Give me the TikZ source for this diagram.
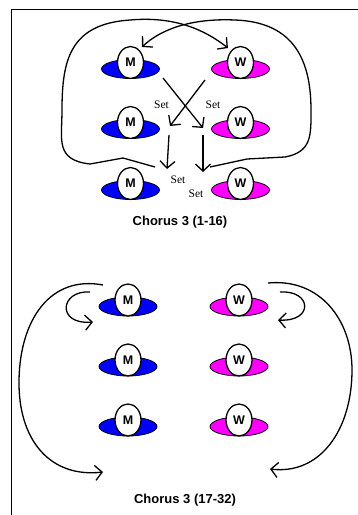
\documentclass[tikz,border=0pt]{standalone}
\usepackage{fontspec}
\setmainfont{Liberation Serif}
\setsansfont{Liberation Sans}
\usetikzlibrary{arrows.meta,shapes.geometric}

\definecolor{manblue}{RGB}{0,0,255}
\definecolor{womanpink}{RGB}{255,0,255}

\tikzset{
  body/.style={ellipse,draw,line width=0.8pt,minimum width=58pt,minimum height=19pt,inner sep=0pt},
  manbody/.style={body,fill=manblue},
  womanbody/.style={body,fill=womanpink},
  head/.style={ellipse,draw,fill=white,line width=1.3pt,minimum width=26pt,minimum height=32pt,inner sep=0pt,
    font=\sffamily\bfseries\fontsize{12.5}{14}\selectfont},
  setlabel/.style={font=\fontsize{11.5}{13}\selectfont},
  caption/.style={font=\sffamily\bfseries\fontsize{13}{15}\selectfont},
  path/.style={line width=1.3pt}
}

\begin{document}
\begin{tikzpicture}[x=1pt,y=-1pt,>={Straight Barb[length=7pt,width=15pt]}]
  \useasboundingbox (0,0) rectangle (358,515);
  \draw[line width=1.2pt] (11.5,515) -- (11.5,9.5) -- (358,9.5);

  % dancers, first chorus
  \foreach \i/\y in {1/69,2/129,3/190}{
    \node[manbody] (mb\i) at (130.5,\y) {};
    \node[head] (m\i) at (130.5,\y-6.5) {M};
    \node[womanbody] (wb\i) at (240.5,\y) {};
    \node[head] (w\i) at (240.5,\y-6.5) {W};
  }
  % dancers, second chorus
  \foreach \i/\y in {4/306.5,5/366.5,6/426.5}{
    \node[manbody] (mb\i) at (128,\y) {};
    \node[head] (m\i) at (128,\y-6.5) {M};
    \node[womanbody] (wb\i) at (239,\y) {};
    \node[head] (w\i) at (239,\y-6.5) {W};
  }

  \node[setlabel] (set1) at (161.5,105) {Set};
  \node[setlabel] (set2) at (213,105) {Set};
  \node[setlabel] (set3) at (178,180) {Set};
  \node[setlabel] (set4) at (196,193.5) {Set};

  \node[caption] (cap1) at (180,222) {Chorus 3 (1-16)};
  \node[caption] (cap2) at (185,500) {Chorus 3 (17-32)};

  % ends of the moves
  \coordinate (xa) at (163,78);  \coordinate (xb) at (203,128);
  \coordinate (ya) at (205,80);  \coordinate (yb) at (170,126);
  \coordinate (va) at (169,135); \coordinate (vb) at (167,169);
  \coordinate (ua) at (203,135); \coordinate (ub) at (203,172);
  \coordinate (la) at (155,167); \coordinate (lb) at (228,48);
  \coordinate (ra) at (210,167); \coordinate (rb) at (142,47);

  \draw[path,->] (xa) -- (xb);
  \draw[path,->] (ya) -- (yb);
  \draw[path,->] (va) -- (vb);
  \draw[path,->] (ua) -- (ub);
  \draw[path,->] (la) -- (123,158) -- (90,164) .. controls (55,160) and (62,140) .. (62,110)
    .. controls (62,60) and (70,24) .. (130,20) .. controls (175,16) and (205,30) .. (lb);
  \draw[path,->] (ra) -- (247,159) -- (285,157) .. controls (312,152) and (311,135) .. (311,110)
    .. controls (311,55) and (290,22) .. (235,20) .. controls (190,18) and (160,30) .. (rb);

  % second chorus
  \coordinate (sa) at (90,292);  \coordinate (sb) at (93,322);
  \coordinate (ta) at (280,292); \coordinate (tb) at (278,320);
  \coordinate (ba) at (103,285); \coordinate (bb) at (103,472);
  \coordinate (ca) at (268,283); \coordinate (cb) at (270,469);

  \draw[path,->] (sa) .. controls (60,290) and (56,325) .. (sb);
  \draw[path,->] (ta) .. controls (312,290) and (314,322) .. (tb);
  \draw[path,->] (ba) .. controls (50,275) and (20,320) .. (19,380)
    .. controls (18,440) and (50,478) .. (bb);
  \draw[path,->] (ca) .. controls (320,278) and (352,320) .. (352,370)
    .. controls (352,430) and (320,475) .. (cb);
\end{tikzpicture}
\end{document}
